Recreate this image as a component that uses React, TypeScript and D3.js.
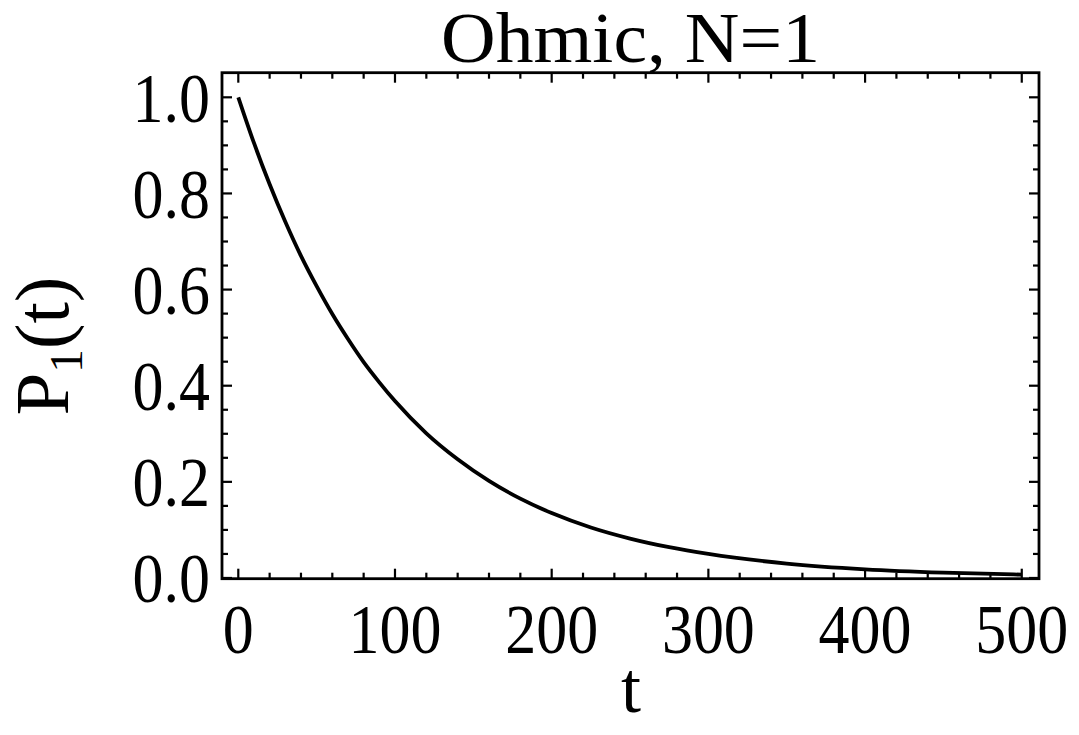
import React from "react";
import * as d3 from "d3";

const tValues = [0, 10, 20, 30, 40, 50, 60, 70, 80, 90, 100, 120, 140, 160, 180, 200, 225, 250, 275, 300, 350, 400, 450, 500];
const pValues = [1.0, 0.905, 0.819, 0.741, 0.67, 0.607, 0.549, 0.497, 0.449, 0.407, 0.368, 0.301, 0.247, 0.202, 0.165, 0.135, 0.105, 0.082, 0.064, 0.05, 0.03, 0.018, 0.011, 0.007];
const xMajorTicks = [0, 100, 200, 300, 400, 500];
const xTickLabels = ["0", "100", "200", "300", "400", "500"];
const yMajorTicks = [0, 0.2, 0.4, 0.6, 0.8, 1.0];
const yTickLabels = ["0.0", "0.2", "0.4", "0.6", "0.8", "1.0"];
const titleText = "Ohmic, N=1";
const xLabel = "t";

const W = 1079;
const H = 735;
const L = 222, R = 1039, T = 72.7, B = 578.7;
const FONT = "'Liberation Serif', 'Times New Roman', serif";
const SX = 0.885;

export default function App() {
  const x = d3.scaleLinear().domain([-10.4, 511]).range([L, R]);
  const y = d3.scaleLinear().domain([-0.0015, 1.0512]).range([B, T]);
  const data = tValues.map((t, i) => [t, pValues[i]] as [number, number]);
  const line = d3.line<[number, number]>().x(d => x(d[0])).y(d => y(d[1])).curve(d3.curveMonotoneX);

  const xMinor = d3.range(0, 501, 20).filter(v => v % 100 !== 0);
  const yMinor = d3.range(0, 21).map(i => i * 0.05).filter((v, i) => i % 4 !== 0);

  const majLen = 10, minLen = 6;
  const tickStroke = 2.2;

  return (
    <svg width={W} height={H} style={{ position: "absolute", left: 0, top: 0, background: "#fff" }}>
      <rect x={0} y={0} width={W} height={H} fill="#fff" />
      <path d={line(data) || ""} fill="none" stroke="#000" strokeWidth={3.8} />
      <g stroke="#000" strokeWidth={tickStroke}>
        {xMajorTicks.map(v => (
          <g key={"xm" + v}>
            <line x1={x(v)} x2={x(v)} y1={B} y2={B - majLen} />
            <line x1={x(v)} x2={x(v)} y1={T} y2={T + majLen} />
          </g>
        ))}
        {xMinor.map(v => (
          <g key={"xn" + v}>
            <line x1={x(v)} x2={x(v)} y1={B} y2={B - minLen} />
            <line x1={x(v)} x2={x(v)} y1={T} y2={T + minLen} />
          </g>
        ))}
        {yMajorTicks.map(v => (
          <g key={"ym" + v}>
            <line x1={L} x2={L + majLen} y1={y(v)} y2={y(v)} />
            <line x1={R} x2={R - majLen} y1={y(v)} y2={y(v)} />
          </g>
        ))}
        {yMinor.map(v => (
          <g key={"yn" + v}>
            <line x1={L} x2={L + minLen} y1={y(v)} y2={y(v)} />
            <line x1={R} x2={R - minLen} y1={y(v)} y2={y(v)} />
          </g>
        ))}
      </g>
      <rect x={L} y={T} width={R - L} height={B - T} fill="none" stroke="#000" strokeWidth={2.8} />
      <g fontFamily={FONT} fontSize={70} fill="#000">
        {xMajorTicks.map((v, i) => (
          <text key={"xl" + v} transform={`translate(${x(v)},653) scale(${SX},1)`} textAnchor="middle">{xTickLabels[i]}</text>
        ))}
        {yMajorTicks.map((v, i) => (
          <text key={"yl" + v} transform={`translate(210,${y(v) + 24.5}) scale(${SX},1)`} textAnchor="end">{yTickLabels[i]}</text>
        ))}
      </g>
      <text x={630.5} y={61.7} textAnchor="middle" fontFamily={FONT} fontSize={71} fill="#000"
        textLength={379} lengthAdjust="spacingAndGlyphs">{titleText}</text>
      <text x={631} y={712} textAnchor="middle" fontFamily={FONT} fontSize={72} fill="#000">{xLabel}</text>
      <text transform="translate(68,346) rotate(-90)" textAnchor="middle" fontFamily={FONT} fontSize={77} fill="#000">
        P<tspan fontSize={47} dy={14}>1</tspan><tspan dy={-14}>(t)</tspan>
      </text>
    </svg>
  );
}
